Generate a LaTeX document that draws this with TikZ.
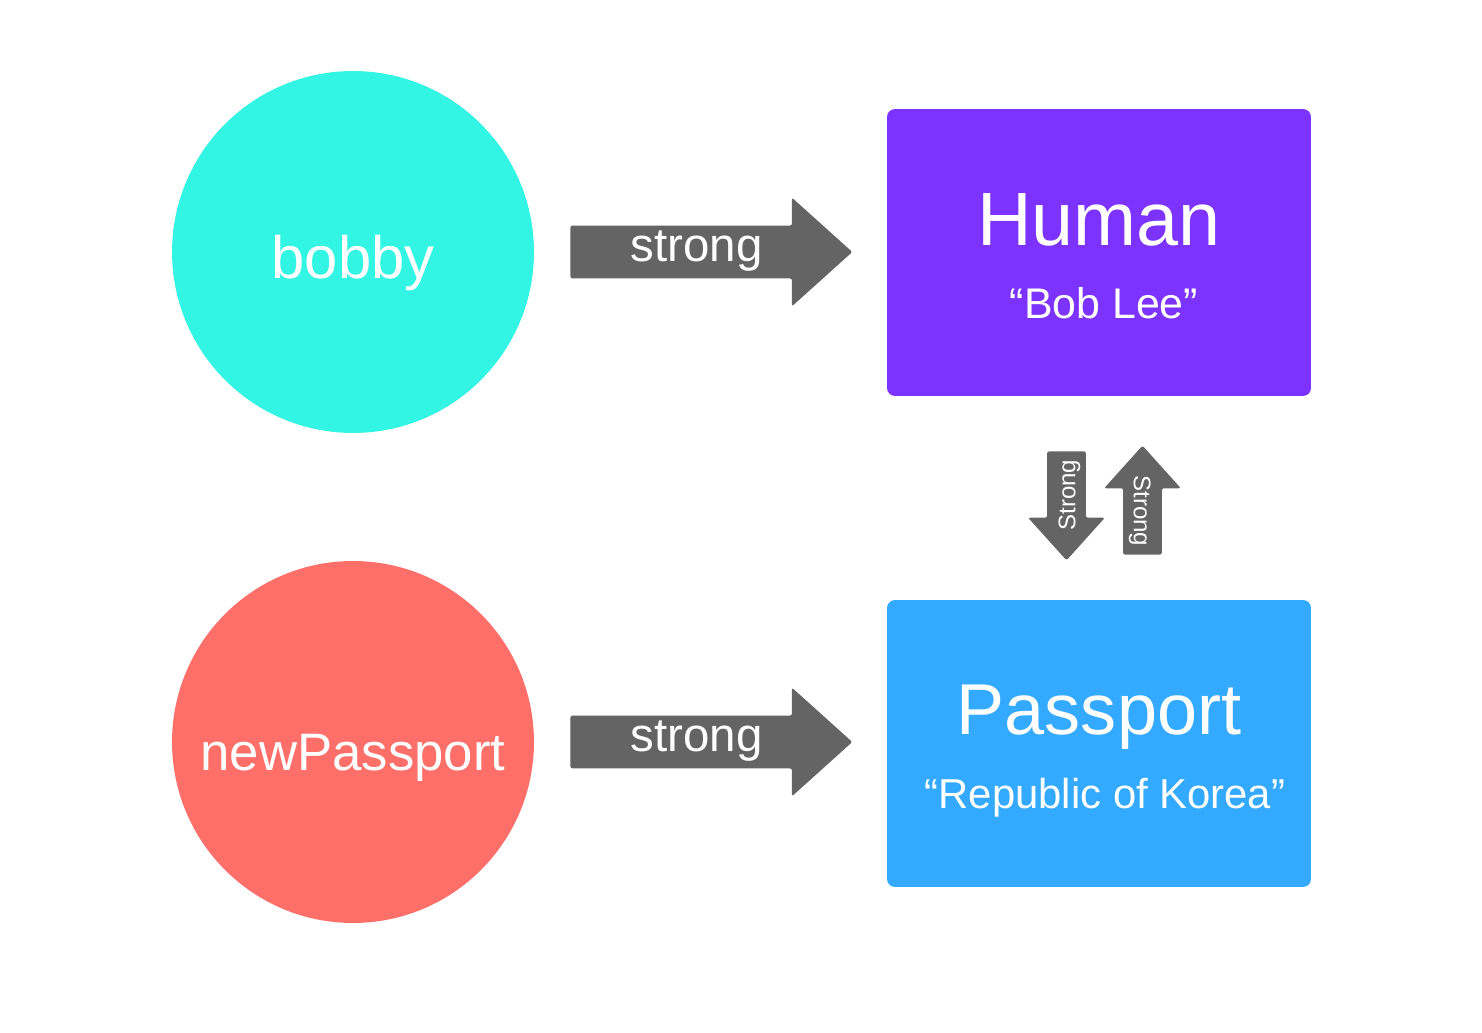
\documentclass[tikz,border=0pt]{standalone}
\usepackage{fontspec}
\setmainfont{Liberation Sans}
\usepackage{tikz}
\usetikzlibrary{shapes.arrows}
\usepackage{xcolor}
\definecolor{varcyan}{HTML}{33F5E3}
\definecolor{varred}{HTML}{FF6F69}
\definecolor{objpurple}{HTML}{7D33FF}
\definecolor{objblue}{HTML}{33AAFF}
\definecolor{refgray}{HTML}{646464}

\begin{document}
\begin{tikzpicture}[
    x=0.02cm, y=-0.02cm,
    var/.style={circle, minimum size=7.24cm, inner sep=0pt},
    obj/.style={rectangle, rounded corners=4.5pt, minimum width=8.48cm, minimum height=5.74cm, inner sep=0pt},
    txt/.style={text=white, anchor=base, inner sep=0pt},
    ref/.style={single arrow, fill=refgray, text=white, inner sep=0pt, anchor=tail, single arrow tip angle=84, rounded corners=1.2pt},
    bigref/.style={ref, minimum height=5.64cm, single arrow head extend=0.56cm, text height=0.72cm, text depth=0.32cm, font=\fontsize{27}{27}\selectfont},
    smallref/.style={ref, minimum height=2.18cm, single arrow head extend=0.38cm, text height=0.555cm, text depth=0.205cm, shape border rotate=180, font=\fontsize{13.7}{14}\selectfont}
]
    \useasboundingbox (0,0) rectangle (1482,1033);

    % Variables
    \node[var, fill=varcyan] (bobby) at (353,252) {};
    \node[txt, font=\fontsize{34}{34}\selectfont] at (353,279) {bobby};

    \node[var, fill=varred] (newpass) at (353,742) {};
    \node[txt, font=\fontsize{30}{30}\selectfont] at (353,771) {newPassport};

    % Objects
    \node[obj, fill=objpurple] (human) at (1099,252.5) {};
    \node[txt, font=\fontsize{43}{43}\selectfont] at (1099,246) {Human};
    \node[txt, font=\fontsize{24.4}{25}\selectfont] at (1104,319) {“Bob Lee”};

    \node[obj, fill=objblue] (passport) at (1099,743.5) {};
    \node[txt, font=\fontsize{41}{41}\selectfont] at (1099,735) {Passport};
    \node[txt, font=\fontsize{23.8}{24}\selectfont] at (1105,808) {“Republic of Korea”};

    % References
    \node[bigref] (strong1) at (570,252) {strong};
    \node[bigref] (strong2) at (570,742) {strong};

    \node[smallref, rotate=90] (down) at (1066.5,451) {Strong};
    \node[smallref, rotate=-90] (up) at (1142.5,555) {Strong};
\end{tikzpicture}
\end{document}
